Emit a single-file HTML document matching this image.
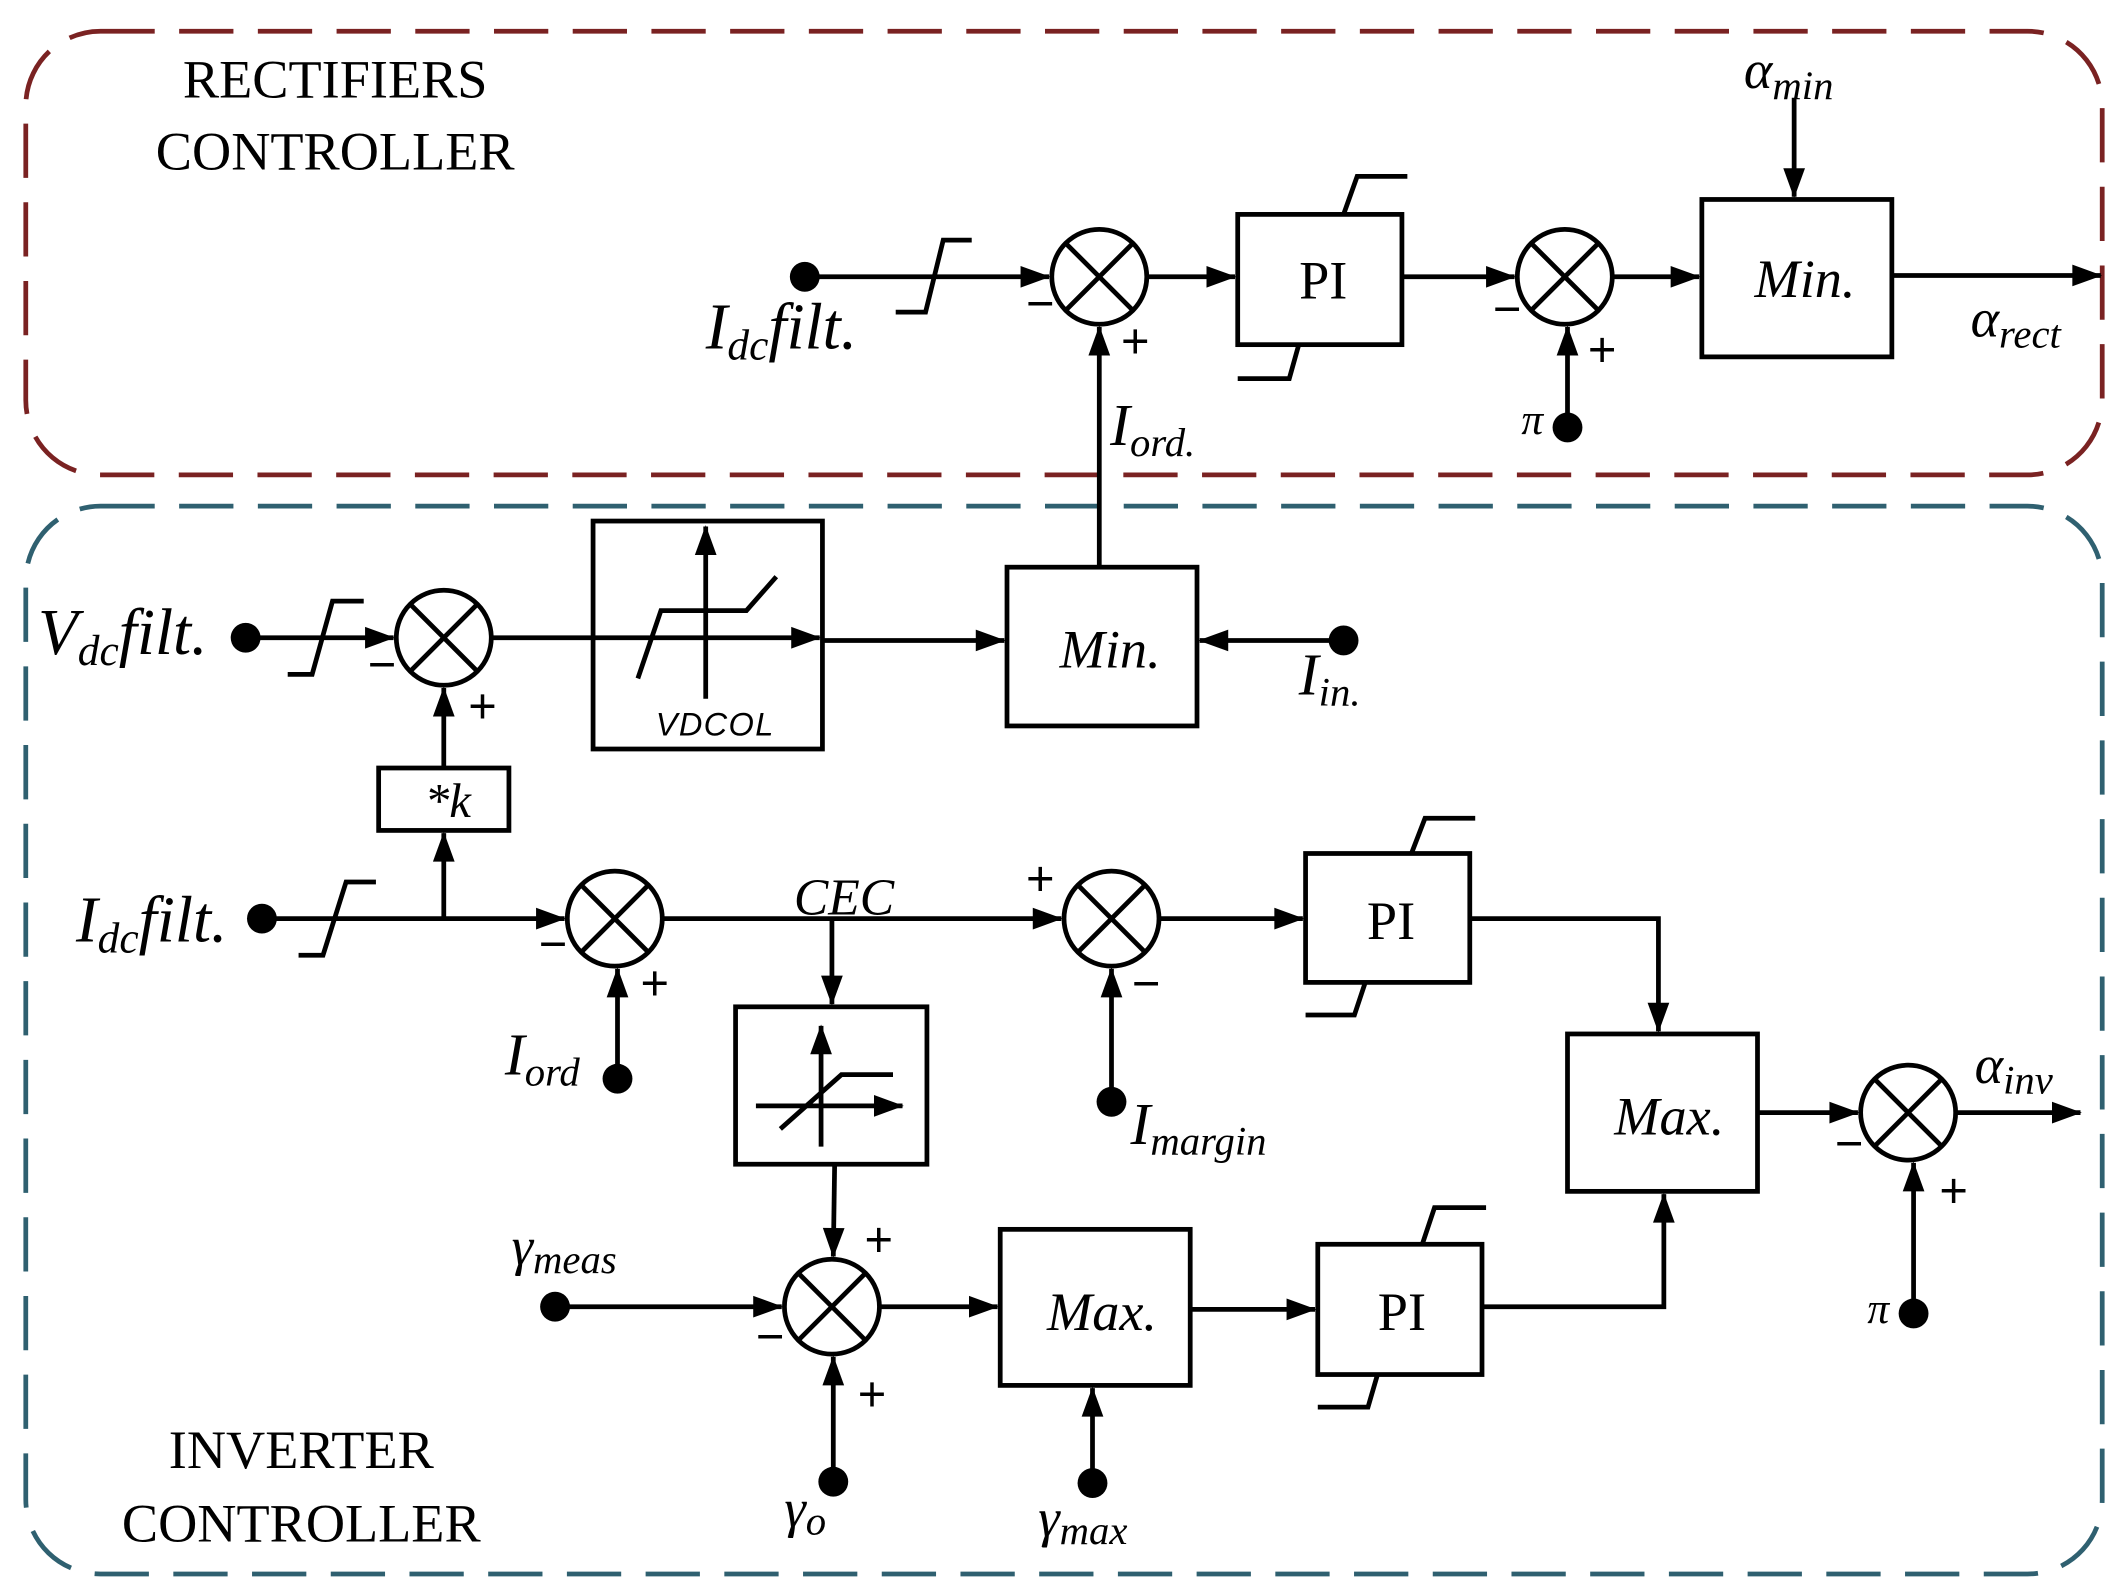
<!DOCTYPE html>
<html><head><meta charset="utf-8"><style>html,body{margin:0;padding:0;background:#fff}svg{display:block}</style></head>
<body>
<svg width="2128" height="1593" viewBox="0 0 1568 1174" preserveAspectRatio="none" xmlns="http://www.w3.org/2000/svg" font-family="Liberation Serif, serif">
<defs>
<marker id="a" markerWidth="10" markerHeight="10" refX="9" refY="5" orient="auto" markerUnits="userSpaceOnUse" viewBox="0 0 10 10" style="overflow:visible">
<path d="M-12,-3 L10,5 L-12,13 Z" fill="#000"/></marker>
</defs>
<rect width="1568" height="1174" fill="#fff"/>
<rect x="19" y="23" width="1530" height="327" rx="55" fill="none" stroke="#7a2222" stroke-width="3.5" stroke-dasharray="40,18"/>
<rect x="19" y="373" width="1530" height="787" rx="55" fill="none" stroke="#2f6070" stroke-width="3.5" stroke-dasharray="40,18"/>

<g font-size="40" text-anchor="middle" fill="#000">
<text x="247" y="72">RECTIFIERS</text>
<text x="247" y="125">CONTROLLER</text>
<text x="222" y="1082">INVERTER</text>
<text x="222" y="1136">CONTROLLER</text>
</g>

<g stroke="#000" stroke-width="3.5" fill="none">
<!-- top row -->
<line x1="593" y1="204" x2="773" y2="204" marker-end="url(#a)"/>
<polyline points="660,230 682,230 695,177 716,177"/>
<circle cx="810" cy="204" r="35"/><line x1="785" y1="179" x2="835" y2="229"/><line x1="835" y1="179" x2="785" y2="229"/>
<line x1="845" y1="204" x2="910" y2="204" marker-end="url(#a)"/>
<rect x="912" y="158" width="121" height="96"/>
<polyline points="990,158 1000,130 1037,130"/>
<polyline points="912,279 950,279 957,254"/>
<line x1="1033" y1="204" x2="1116" y2="204" marker-end="url(#a)"/>
<circle cx="1153" cy="204" r="35"/><line x1="1128" y1="179" x2="1178" y2="229"/><line x1="1178" y1="179" x2="1128" y2="229"/>
<line x1="1155" y1="315" x2="1155" y2="241" marker-end="url(#a)"/>
<line x1="1188" y1="204" x2="1252" y2="204" marker-end="url(#a)"/>
<rect x="1254" y="147" width="140" height="116"/>
<line x1="1322" y1="72" x2="1322" y2="145" marker-end="url(#a)"/>
<line x1="1394" y1="203" x2="1548" y2="203" marker-end="url(#a)"/>
<line x1="810" y1="418" x2="810" y2="241" marker-end="url(#a)"/>

<!-- Vdc row -->
<line x1="181" y1="470" x2="290" y2="470" marker-end="url(#a)"/>
<polyline points="212,497 230,497 245,443 268,443"/>
<circle cx="327" cy="470" r="35"/><line x1="302" y1="445" x2="352" y2="495"/><line x1="352" y1="445" x2="302" y2="495"/>
<line x1="362" y1="470" x2="604" y2="470" marker-end="url(#a)"/>
<rect x="437" y="384" width="169" height="168"/>
<line x1="520" y1="515" x2="520" y2="388" marker-end="url(#a)"/>
<polyline points="470,500 487,450 550,450 572,425"/>
<line x1="606" y1="472" x2="740" y2="472" marker-end="url(#a)"/>
<rect x="742" y="418" width="140" height="117"/>
<line x1="990" y1="472" x2="884" y2="472" marker-end="url(#a)"/>
<rect x="279" y="566" width="96" height="46"/>
<line x1="327" y1="566" x2="327" y2="507" marker-end="url(#a)"/>
<line x1="327" y1="677" x2="327" y2="614" marker-end="url(#a)"/>

<!-- Idc row -->
<line x1="193" y1="677" x2="416" y2="677" marker-end="url(#a)"/>
<polyline points="220,704 238,704 255,650 277,650"/>
<circle cx="453" cy="677" r="35"/><line x1="428" y1="652" x2="478" y2="702"/><line x1="478" y1="652" x2="428" y2="702"/>
<line x1="455" y1="795" x2="455" y2="714" marker-end="url(#a)"/>
<line x1="488" y1="677" x2="782" y2="677" marker-end="url(#a)"/>
<circle cx="819" cy="677" r="35"/><line x1="794" y1="652" x2="844" y2="702"/><line x1="844" y1="652" x2="794" y2="702"/>
<line x1="819" y1="812" x2="819" y2="714" marker-end="url(#a)"/>
<line x1="854" y1="677" x2="960" y2="677" marker-end="url(#a)"/>
<rect x="962" y="629" width="121" height="95"/>
<polyline points="1040,629 1050,603 1087,603"/>
<polyline points="962,748 998,748 1006,724"/>
<polyline points="1083,677 1222,677 1222,760" marker-end="url(#a)"/>
<line x1="613" y1="677" x2="613" y2="740" marker-end="url(#a)"/>
<rect x="542" y="742" width="141" height="116"/>
<line x1="605" y1="845" x2="605" y2="756" marker-end="url(#a)"/>
<line x1="557" y1="815" x2="665" y2="815" marker-end="url(#a)"/>
<polyline points="575,832 620,792 658,792"/>
<line x1="615" y1="858" x2="614" y2="926" marker-end="url(#a)"/>

<!-- gamma row -->
<line x1="409" y1="963" x2="576" y2="963" marker-end="url(#a)"/>
<circle cx="613" cy="963" r="35"/><line x1="588" y1="938" x2="638" y2="988"/><line x1="638" y1="938" x2="588" y2="988"/>
<line x1="614" y1="1092" x2="614" y2="1000" marker-end="url(#a)"/>
<line x1="648" y1="963" x2="735" y2="963" marker-end="url(#a)"/>
<rect x="737" y="906" width="140" height="115"/>
<line x1="805" y1="1093" x2="805" y2="1023" marker-end="url(#a)"/>
<line x1="877" y1="965" x2="969" y2="965" marker-end="url(#a)"/>
<rect x="971" y="917" width="121" height="96"/>
<polyline points="1048,917 1057,890 1095,890"/>
<polyline points="971,1037 1008,1037 1015,1013"/>
<polyline points="1092,963 1226,963 1226,880" marker-end="url(#a)"/>
<rect x="1155" y="762" width="140" height="116"/>
<line x1="1295" y1="820" x2="1369" y2="820" marker-end="url(#a)"/>
<circle cx="1406" cy="820" r="35"/><line x1="1381" y1="795" x2="1431" y2="845"/><line x1="1431" y1="795" x2="1381" y2="845"/>
<line x1="1410" y1="968" x2="1410" y2="857" marker-end="url(#a)"/>
<line x1="1441" y1="820" x2="1533" y2="820" marker-end="url(#a)"/>
</g>

<g fill="#000">
<circle cx="593" cy="204" r="11"/><circle cx="1155" cy="315" r="11"/>
<circle cx="181" cy="470" r="11"/><circle cx="990" cy="472" r="11"/>
<circle cx="193" cy="677" r="11"/><circle cx="455" cy="795" r="11"/>
<circle cx="819" cy="812" r="11"/><circle cx="409" cy="963" r="11"/>
<circle cx="614" cy="1092" r="11"/><circle cx="805" cy="1093" r="11"/>
<circle cx="1410" cy="968" r="11"/>
</g>

<g fill="#000" font-size="36" font-family="Liberation Sans, sans-serif">
<text x="756" y="236">−</text><text x="826" y="264">+</text>
<text x="1100" y="240">−</text><text x="1170" y="270">+</text>
<text x="271" y="502">−</text><text x="345" y="533">+</text>
<text x="397" y="708">−</text><text x="472" y="737">+</text>
<text x="756" y="660">+</text><text x="834" y="737">−</text>
<text x="637" y="926">+</text><text x="557" y="997">−</text><text x="632" y="1040">+</text>
<text x="1352" y="855">−</text><text x="1429" y="890">+</text>
</g>

<g fill="#000" font-size="40" text-anchor="middle">
<text x="975" y="220">PI</text>
<text x="1025" y="692">PI</text>
<text x="1033" y="980">PI</text>
<g font-style="italic">
<text x="1330" y="219">Min.</text>
<text x="818" y="492">Min.</text>
<text x="812" y="980">Max.</text>
<text x="1230" y="836">Max.</text>
<text x="330" y="602" font-size="36">*k</text>
</g>
</g>
<text x="527" y="542" font-size="24" font-family="Liberation Sans, sans-serif" text-anchor="middle" font-style="italic" letter-spacing="1">VDCOL</text>

<g fill="#000" font-style="italic">
<text x="520" y="257" font-size="48">I<tspan font-size="32" dy="8">dc</tspan><tspan dy="-8">filt.</tspan></text>
<text x="28" y="482" font-size="48">V<tspan font-size="32" dy="8">dc</tspan><tspan dy="-8">filt.</tspan></text>
<text x="56" y="694" font-size="48">I<tspan font-size="32" dy="8">dc</tspan><tspan dy="-8">filt.</tspan></text>
<text x="1285" y="65" font-size="40">α<tspan font-size="30" dy="8">min</tspan></text>
<text x="1452" y="248" font-size="40">α<tspan font-size="30" dy="8">rect</tspan></text>
<text x="1455" y="798" font-size="40">α<tspan font-size="30" dy="8">inv</tspan></text>
<text x="818" y="328" font-size="44">I<tspan font-size="30" dy="8">ord.</tspan></text>
<text x="957" y="512" font-size="44">I<tspan font-size="30" dy="8">in.</tspan></text>
<text x="372" y="792" font-size="44">I<tspan font-size="30" dy="8">ord</tspan></text>
<text x="833" y="843" font-size="44">I<tspan font-size="30" dy="8">margin</tspan></text>
<text x="585" y="674" font-size="38">CEC</text>
<text x="377" y="932" font-size="40">γ<tspan font-size="30" dy="6">meas</tspan></text>
<text x="578" y="1125" font-size="40">γ<tspan font-size="30" dy="6">o</tspan></text>
<text x="765" y="1132" font-size="40">γ<tspan font-size="30" dy="6">max</tspan></text>
<text x="1121" y="320" font-size="32">π</text>
<text x="1376" y="975" font-size="32">π</text>
</g>
</svg>
</body></html>
